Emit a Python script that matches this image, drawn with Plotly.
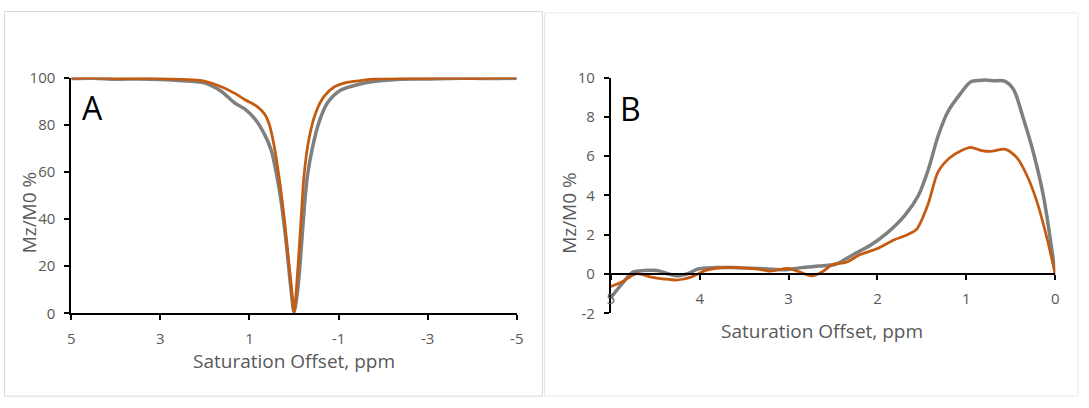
import plotly.graph_objects as go

# ---------------- data ----------------
# Panel A: Z-spectra (Mz/M0 %) vs saturation offset (ppm)
a_gray_ppm = [5.0, 4.5, 4.0, 3.5, 3.0, 2.5, 2.07, 1.88, 1.62, 1.33, 1.10, 0.88, 0.66, 0.51, 0.40, 0.29,
              0.20, 0.126, 0.052, 0.0, -0.082, -0.156, -0.23, -0.30, -0.415, -0.563, -0.748, -1.044,
              -1.49, -1.93, -2.38, -3.0, -3.5, -4.0, -4.5, -5.0]
a_gray_val = [99.6, 99.7, 99.3, 99.4, 99.2, 98.7, 98.0, 96.8, 94.0, 89.2, 86.6, 82.5, 75.8, 69.1, 59.7, 47.6,
              34.1, 20.7, 7.3, 0.5, 10.0, 26.1, 44.9, 58.3, 70.4, 81.2, 89.2, 94.6,
              97.3, 98.6, 99.3, 99.4, 99.6, 99.7, 99.6, 99.7]

a_orange_ppm = [5.0, 4.5, 4.0, 3.5, 3.0, 2.5, 2.07, 1.62, 1.33, 1.10, 0.84, 0.66, 0.55, 0.44, 0.33, 0.215,
                0.126, 0.052, 0.0, -0.082, -0.156, -0.23, -0.34, -0.49, -0.67, -0.90, -1.19, -1.49,
                -1.8, -2.38, -3.0, -3.5, -4.0, -4.5, -5.0]
a_orange_val = [99.8, 99.9, 99.6, 99.6, 99.6, 99.2, 98.7, 96.0, 93.3, 90.6, 87.9, 84.5, 79.8, 70.4, 57.0, 39.5,
                23.4, 10.0, 0.5, 18.0, 39.5, 59.7, 74.5, 85.2, 91.9, 96.0, 98.0, 98.7,
                99.4, 99.6, 99.7, 99.8, 99.7, 99.9, 100.0]

# Panel B: asymmetry curves
b_gray_ppm = [5.0, 4.87, 4.75, 4.63, 4.48, 4.36, 4.25, 4.13, 4.02, 3.82, 3.63, 3.44, 3.24, 3.05, 2.85, 2.66,
              2.47, 2.27, 2.08, 1.89, 1.69, 1.54, 1.43, 1.32, 1.21, 1.06, 0.95, 0.80, 0.69, 0.57, 0.47,
              0.36, 0.245, 0.13, 0.0]
b_gray_val = [-1.2, -0.47, 0.1, 0.18, 0.18, 0.02, -0.09, 0.03, 0.26, 0.33, 0.33, 0.30, 0.26, 0.22, 0.33, 0.41,
              0.5, 1.0, 1.47, 2.1, 3.0, 4.0, 5.3, 7.0, 8.25, 9.22, 9.79, 9.87, 9.84, 9.82, 9.4,
              7.93, 6.16, 3.9, 0.0]

b_orange_ppm = [5.0, 4.87, 4.71, 4.56, 4.40, 4.25, 4.09, 3.94, 3.74, 3.59, 3.36, 3.20, 3.01, 2.89, 2.74, 2.62,
                2.51, 2.35, 2.20, 2.0, 1.81, 1.69, 1.56, 1.43, 1.32, 1.19, 1.06, 0.95, 0.84, 0.73, 0.56,
                0.43, 0.32, 0.21, 0.10, 0.0]
b_orange_val = [-0.63, -0.39, 0.02, -0.14, -0.25, -0.3, -0.14, 0.18, 0.33, 0.33, 0.26, 0.15, 0.29, 0.13, -0.09, 0.12,
                0.48, 0.6, 0.98, 1.3, 1.75, 1.95, 2.28, 3.57, 5.19, 5.91, 6.28, 6.45, 6.3, 6.24, 6.35,
                5.91, 5.03, 3.74, 1.95, 0.0]

a_xticks = [5, 3, 1, -1, -3, -5]
a_yticks = [0, 20, 40, 60, 80, 100]
b_xticks = [5, 4, 3, 2, 1, 0]
b_yticks = [-2, 0, 2, 4, 6, 8, 10]

x_title = "Saturation Offset, ppm"
y_title = "Mz/M0 %"

# ---------------- styling ----------------
W, H = 1089, 408
GRAY = "#7F7F7F"
ORANGE = "#C55A11"
TXT = "#595959"
FONT = "Open Sans"

def px(x):
    return x / W

def py(y):
    return 1 - y / H

fig = go.Figure()

fig.add_trace(go.Scatter(x=a_gray_ppm, y=a_gray_val, mode="lines",
                         line=dict(color=GRAY, width=3.5, shape="spline", smoothing=0.8),
                         xaxis="x", yaxis="y", showlegend=False, hoverinfo="skip"))
fig.add_trace(go.Scatter(x=a_orange_ppm, y=a_orange_val, mode="lines",
                         line=dict(color=ORANGE, width=2.75, shape="spline", smoothing=0.8),
                         xaxis="x", yaxis="y", showlegend=False, hoverinfo="skip"))
fig.add_trace(go.Scatter(x=b_gray_ppm, y=b_gray_val, mode="lines",
                         line=dict(color=GRAY, width=3.5, shape="spline", smoothing=0.8),
                         xaxis="x2", yaxis="y2", showlegend=False, hoverinfo="skip"))
fig.add_trace(go.Scatter(x=b_orange_ppm, y=b_orange_val, mode="lines",
                         line=dict(color=ORANGE, width=2.75, shape="spline", smoothing=0.8),
                         xaxis="x2", yaxis="y2", showlegend=False, hoverinfo="skip"))

ydom = [py(318), py(70)]
tickfont = dict(family=FONT, size=15, color=TXT)
common_axis = dict(showgrid=False, zeroline=False, showline=True, linecolor="black", linewidth=2,
                   ticks="outside", ticklen=5, tickwidth=2, tickcolor="black", tickfont=tickfont,
                   ticklabelstandoff=6, fixedrange=True)

# B x-axis sits on y = 0 of the -2..10 axis
b_x_pos = ydom[0] + (ydom[1] - ydom[0]) * (0 - (-2)) / 12

fig.update_layout(
    width=W, height=H, autosize=False,
    margin=dict(l=0, r=0, t=0, b=0),
    paper_bgcolor="white", plot_bgcolor="rgba(0,0,0,0)",
    xaxis=dict(common_axis, domain=[px(68), px(518)], range=[5, -5], tickvals=a_xticks,
               ticktext=[str(v) for v in a_xticks], anchor="y"),
    yaxis=dict(common_axis, domain=ydom, range=[0, 100], tickvals=a_yticks,
               ticktext=[str(v) for v in a_yticks], anchor="x"),
    xaxis2=dict(common_axis, domain=[px(613), px(1062)], range=[5, 0], tickvals=b_xticks,
                ticktext=[str(v) for v in b_xticks], anchor="free", position=b_x_pos),
    yaxis2=dict(common_axis, domain=ydom, range=[-2, 10], tickvals=b_yticks,
                ticktext=[str(v) for v in b_yticks], anchor="x2"),
    shapes=[
        dict(type="rect", xref="paper", yref="paper", x0=px(0.5), x1=px(544), y0=py(405), y1=py(0.5),
             line=dict(color="#D9D9D9", width=1), layer="below"),
        dict(type="rect", xref="paper", yref="paper", x0=px(546), x1=px(1085), y0=py(405), y1=py(2),
             line=dict(color="#E8E8E8", width=1), layer="below"),
    ],
    annotations=[
        dict(text="A", xref="paper", yref="paper", x=px(89), y=py(101), showarrow=False,
             xanchor="center", yanchor="middle", font=dict(family=FONT, size=32, color="black")),
        dict(text="B", xref="paper", yref="paper", x=px(633), y=py(102), showarrow=False,
             xanchor="center", yanchor="middle", font=dict(family=FONT, size=32, color="black")),
        dict(text=y_title, xref="paper", yref="paper", x=px(25), y=py(212), showarrow=False,
             textangle=-90, xanchor="center", yanchor="middle",
             font=dict(family=FONT, size=19, color=TXT)),
        dict(text=y_title, xref="paper", yref="paper", x=px(570), y=py(212), showarrow=False,
             textangle=-90, xanchor="center", yanchor="middle",
             font=dict(family=FONT, size=19, color=TXT)),
        dict(text=x_title, xref="paper", yref="paper", x=px(293), y=py(368), showarrow=False,
             xanchor="center", yanchor="middle", font=dict(family=FONT, size=19, color=TXT)),
        dict(text=x_title, xref="paper", yref="paper", x=px(826), y=py(337), showarrow=False,
             xanchor="center", yanchor="middle", font=dict(family=FONT, size=19, color=TXT)),
    ],
)

fig.write_html("out.html", config={"displayModeBar": False},
               post_script="document.body.style.margin='0';document.body.style.overflow='hidden';")
